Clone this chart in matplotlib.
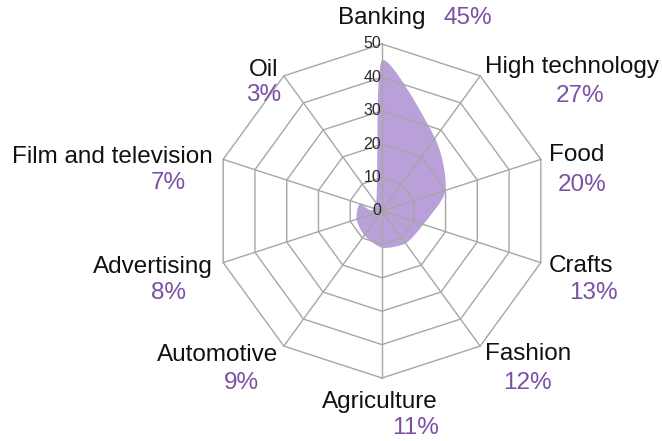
import numpy as np
import matplotlib
matplotlib.use("Agg")
import matplotlib.pyplot as plt
from matplotlib.path import Path
from matplotlib.patches import PathPatch

# Industry shares (%), clockwise from the top
categories = ["Banking", "High technology", "Food", "Crafts", "Fashion",
              "Agriculture", "Automotive", "Advertising", "Film and television", "Oil"]
shares = [45, 27, 20, 13, 12, 11, 9, 8, 7, 3]
ring_values = [10, 20, 30, 40, 50]
tick_labels = ["0", "10", "20", "30", "40", "50"]

FILL = "#baa0d9"
PCT = "#7b50a3"
GRID = "#a6a6a6"

plt.rcParams["font.family"] = ["Liberation Sans", "DejaVu Sans"]

W, H, DPI = 662, 441, 100
fig = plt.figure(figsize=(W / DPI, H / DPI), dpi=DPI)
ax = fig.add_axes([0, 0, 1, 1])

# pixel scale: outer ring (50) spans 167 px, centre at (382, 211)
scale = 167 / 50.0
cx, cy = 382, 211
ax.set_xlim(-cx / scale, (W - cx) / scale)
ax.set_ylim(-(H - cy) / scale, cy / scale)
ax.set_aspect("equal")
ax.axis("off")

n = len(categories)
theta = np.deg2rad(np.arange(n) * 360.0 / n)
ux, uy = np.sin(theta), np.cos(theta)
rmax = max(ring_values)

# lightly smoothed closed outline of the data (cardinal spline as cubic Beziers)
tension = 0.12
px = np.array(shares) * ux
py = np.array(shares) * uy
verts, codes = [(px[0], py[0])], [Path.MOVETO]
for i in range(n):
    p0 = np.array([px[i - 1], py[i - 1]])
    p1 = np.array([px[i], py[i]])
    p2 = np.array([px[(i + 1) % n], py[(i + 1) % n]])
    p3 = np.array([px[(i + 2) % n], py[(i + 2) % n]])
    c1 = p1 + (p2 - p0) * tension
    c2 = p2 - (p3 - p1) * tension
    verts += [tuple(c1), tuple(c2), tuple(p2)]
    codes += [Path.CURVE4] * 3
ax.add_patch(PathPatch(Path(verts, codes), facecolor=FILL, edgecolor="none", zorder=1))

# polygonal grid and spokes
for r in ring_values:
    xs = np.append(r * ux, r * ux[0])
    ys = np.append(r * uy, r * uy[0])
    ax.plot(xs, ys, color=GRID, lw=1.0, zorder=2)
for i in range(n):
    ax.plot([0, rmax * ux[i]], [0, rmax * uy[i]], color=GRID, lw=1.0, zorder=2)

# radial tick labels
for k, lab in enumerate(tick_labels):
    ax.annotate(lab, xy=(0, k * 10), xytext=(-1, 0), textcoords="offset pixels",
                ha="right", va="center", fontsize=11.5, color="#2a2a2a", zorder=3)

# category name / share label placement (pixel offsets from the outer vertex)
name_off = [(0, 26, "center"), (5, 9, "left"), (8, 4, "left"), (8, -3, "left"),
            (5, -8, "left"), (-2, -24, "center"), (-6, -9, "right"),
            (-10, -4, "right"), (-10, 2, "right"), (-20, 6, "center")]
pct_off = [(61, 26), (100, -20), (41, -26), (53, -30), (47, -37),
           (34, -50), (-42, -37), (-55, -30), (-55, -24), (-20, -19)]

for i, (name, val) in enumerate(zip(categories, shares)):
    vx, vy = rmax * ux[i], rmax * uy[i]
    dx, dy, ha = name_off[i]
    ax.annotate(name, xy=(vx, vy), xytext=(dx, dy), textcoords="offset pixels",
                ha=ha, va="center", fontsize=17.5, color="#111111")
    pdx, pdy = pct_off[i]
    ax.annotate(f"{val}%", xy=(vx, vy), xytext=(pdx, pdy), textcoords="offset pixels",
                ha="center" if i else "left", va="center", fontsize=17.5, color=PCT)

fig.savefig("out.png", dpi=DPI)
